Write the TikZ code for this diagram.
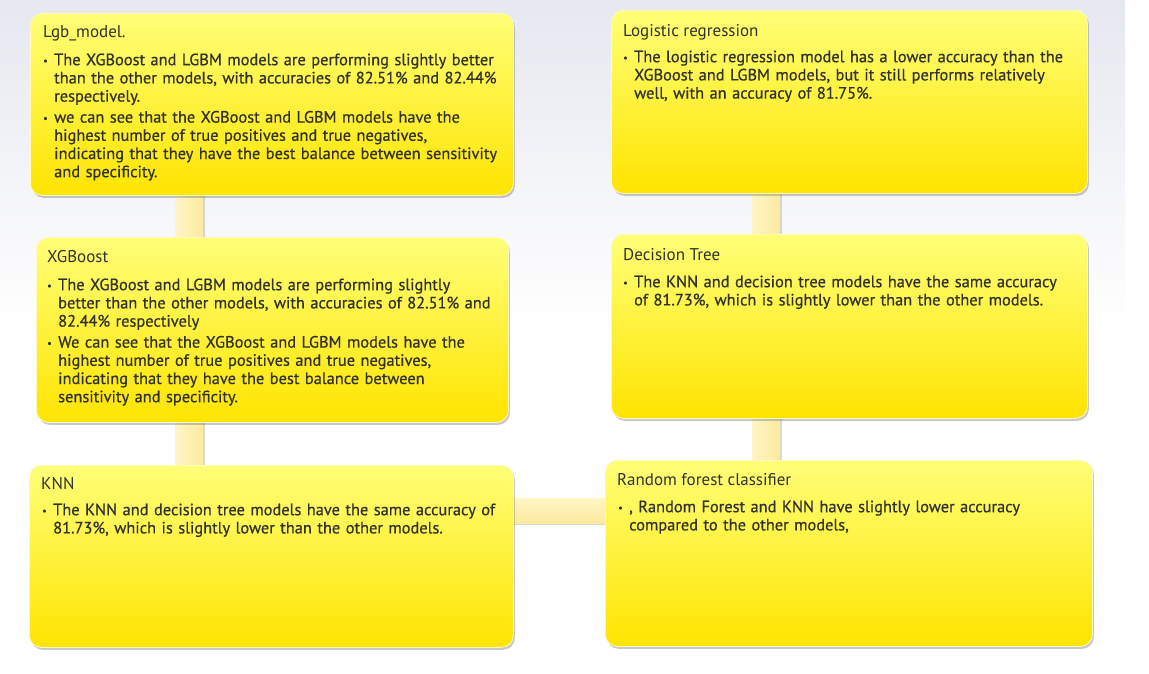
\documentclass[tikz,border=0pt]{standalone}
\usepackage{fontspec}
\setmainfont{PT Sans}
\newfontfamily\bodyfont{PT Sans}[FakeBold=0.6]
\usetikzlibrary{shadows}
\pgfdeclarelayer{bg}
\pgfdeclarelayer{bars}
\pgfsetlayers{bg,bars,main}
\definecolor{bgtop}{RGB}{230,232,240}
\definecolor{ytop}{RGB}{255,255,120}
\definecolor{ymid}{RGB}{255,246,50}
\definecolor{ybot}{RGB}{255,228,0}
\definecolor{barL}{RGB}{255,246,196}
\definecolor{barR}{RGB}{252,234,160}
\definecolor{txtc}{RGB}{50,50,44}
\newcommand{\bhead}{\hangindent=11pt\hangafter=1\noindent\hbox to 11pt{\raisebox{1pt}{\fontsize{10}{10}\selectfont\textbullet}\hfil}\rule{0pt}{12pt}}
\newcommand{\bfirst}{\bhead}
\newcommand{\bitem}{\par\vspace{2.8pt}\bhead}
\tikzset{
  ybox/.style={rectangle, rounded corners=12pt, top color=ytop, middle color=ymid, bottom color=ybot,
    draw={rgb,255:red,255;green,250;blue,190}, line width=0.8pt,
    drop shadow={opacity=0.35, shadow xshift=1.5pt, shadow yshift=-2.5pt, fill=black!60},
    inner sep=0pt, anchor=north west},
  ttl/.style={anchor=base west, inner sep=0pt, text=txtc, font=\fontsize{17}{18}\selectfont},
  bodytxt/.style={anchor=north west, inner sep=0pt, text=txtc, text width=500pt,
    font=\bodyfont\fontsize{16.4}{18.2}\selectfont},
  vbar/.style={left color=barL, right color=barR, drop shadow={opacity=0.3, shadow xshift=1.5pt, shadow yshift=0pt, fill=black!50}},
  hbar/.style={top color=barL, bottom color=barR, drop shadow={opacity=0.3, shadow xshift=0pt, shadow yshift=-1.5pt, fill=black!50}}
}
\begin{document}
\begin{tikzpicture}[x=1pt,y=-1pt]
\useasboundingbox (0,0) rectangle (1149,673);
\begin{pgfonlayer}{bg}
\fill[white] (0,0) rectangle (1149,673);
\shade[top color=bgtop, bottom color=white] (0,0) rectangle (1125,330);
\end{pgfonlayer}

% boxes
\node[ybox, minimum width=483pt, minimum height=182pt] (b1) at (30,13) {};
\node[ybox, minimum width=476pt, minimum height=183pt] (b2) at (611,10) {};
\node[ybox, minimum width=472pt, minimum height=185pt] (b3) at (36,237) {};
\node[ybox, minimum width=476pt, minimum height=184pt] (b4) at (611,234) {};
\node[ybox, minimum width=484pt, minimum height=182pt] (b5) at (29,465) {};
\node[ybox, minimum width=487pt, minimum height=186pt] (b6) at (605,460) {};

% connectors
\coordinate (L1) at (175,0);
\coordinate (L2) at (203,0);
\coordinate (R1) at (752,0);
\coordinate (R2) at (780,0);
\coordinate (H1) at (0,498);
\coordinate (H2) at (0,523);
\begin{pgfonlayer}{bars}
\path[vbar] (L1 |- b1.south) rectangle (L2 |- b3.north);
\path[vbar] (L1 |- b3.south) rectangle (L2 |- b5.north);
\path[vbar] (R1 |- b2.south) rectangle (R2 |- b4.north);
\path[vbar] (R1 |- b4.south) rectangle (R2 |- b6.north);
\path[hbar] (b5.east |- H1) rectangle (b6.west |- H2);
\end{pgfonlayer}

% texts
\node[ttl] (t1) at (43,37) {Lgb\_model.};
\node[bodytxt] (x1) at (43,53) {\bfirst The XGBoost and LGBM models are performing slightly better\newline than the other models, with accuracies of 82.51\% and 82.44\%\newline respectively.\bitem we can see that the XGBoost and LGBM models have the\newline highest number of true positives and true negatives,\newline indicating that they have the best balance between sensitivity\newline and specificity.\par};

\node[ttl] (t2) at (623,36) {Logistic regression};
\node[bodytxt] (x2) at (623,50) {\bfirst The logistic regression model has a lower accuracy than the\newline XGBoost and LGBM models, but it still performs relatively\newline well, with an accuracy of 81.75\%.\par};

\node[ttl] (t3) at (47,262) {XGBoost};
\node[bodytxt] (x3) at (47,278) {\bfirst The XGBoost and LGBM models are performing slightly\newline better than the other models, with accuracies of 82.51\% and\newline 82.44\% respectively\bitem We can see that the XGBoost and LGBM models have the\newline highest number of true positives and true negatives,\newline indicating that they have the best balance between\newline sensitivity and specificity.\par};

\node[ttl] (t4) at (623,260) {Decision Tree};
\node[bodytxt] (x4) at (623,275) {\bfirst The KNN and decision tree models have the same accuracy\newline of 81.73\%, which is slightly lower than the other models.\par};

\node[ttl] (t5) at (41,489) {KNN};
\node[bodytxt] (x5) at (42,503) {\bfirst The KNN and decision tree models have the same accuracy of\newline 81.73\%, which is slightly lower than the other models.\par};

\node[ttl] (t6) at (617,485) {Random forest classifier};
\node[bodytxt] (x6) at (618,500) {\bfirst , Random Forest and KNN have slightly lower accuracy\newline compared to the other models,\par};
\end{tikzpicture}
\end{document}
